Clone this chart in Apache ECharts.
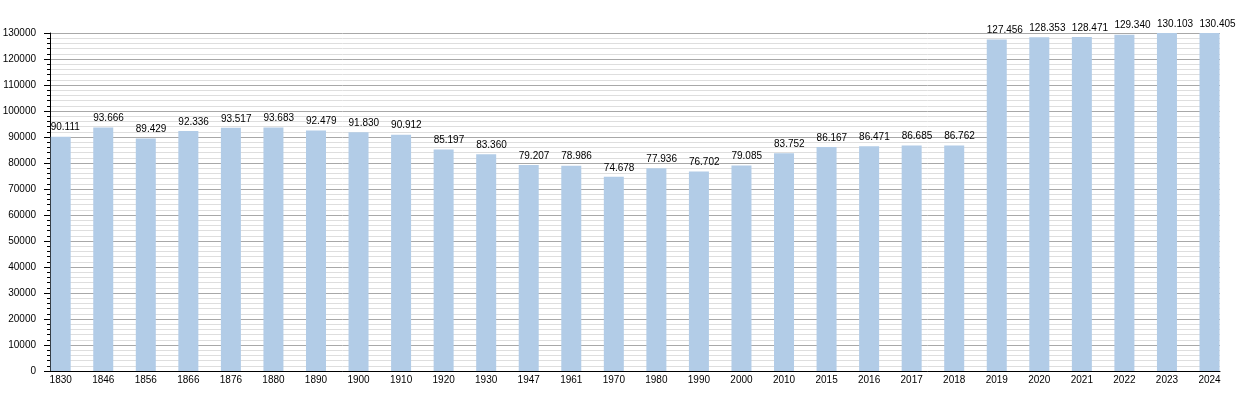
<!DOCTYPE html>
<html>
<head>
<meta charset="utf-8">
<script src="https://cdn.jsdelivr.net/npm/echarts@6/dist/echarts.min.js"></script>
<style>html,body{margin:0;padding:0;background:#fff}#c{width:1250px;height:400px}</style>
</head>
<body>
<div id="c"></div>
<script>
const years = ['1830','1846','1856','1866','1876','1880','1890','1900','1910','1920','1930','1947','1961','1970','1980','1990','2000','2010','2015','2016','2017','2018','2019','2020','2021','2022','2023','2024'];
const population = [90111,93666,89429,92336,93517,93683,92479,91830,90912,85197,83360,79207,78986,74678,77936,76702,79085,83752,86167,86471,86685,86762,127456,128353,128471,129340,130103,130405];
const yMin = 0, yMax = 130000, yStep = 10000;

function fmt(v){ return String(v).replace(/\B(?=(\d{3})+(?!\d))/g, '.'); }

const chart = echarts.init(document.getElementById('c'), null, {renderer:'canvas'});
const font = 'Liberation Sans';
chart.setOption({
  animation:false,
  backgroundColor:'#fff',
  textStyle:{fontFamily:font},
  grid:[
    {left:50, right:30, top:33, bottom:29, containLabel:false, outerBoundsMode:'none'},
    {left:60.7, right:40.5, top:33, bottom:29, containLabel:false, outerBoundsMode:'none'}
  ],
  xAxis:[
    {gridIndex:0, type:'category', data:years, boundaryGap:true,
     axisLine:{show:true, lineStyle:{color:'#000', width:1}},
     axisTick:{show:false}, axisLabel:{show:false}, splitLine:{show:false}},
    {gridIndex:1, type:'category', data:years, boundaryGap:false,
     axisLine:{show:false}, axisTick:{show:false},
     axisLabel:{show:true, interval:0, color:'#000', fontSize:10, fontFamily:font, margin:4},
     splitLine:{show:false}}
  ],
  yAxis:[
    {gridIndex:0, type:'value', min:yMin, max:yMax, interval:yStep,
     axisLine:{show:true, lineStyle:{color:'#000', width:1}},
     axisTick:{show:true, length:6, lineStyle:{color:'#000'}},
     minorTick:{show:true, splitNumber:5, length:3, lineStyle:{color:'#000'}},
     axisLabel:{color:'#000', fontSize:10, fontFamily:font, margin:14, formatter:v=>String(v)},
     splitLine:{show:true, lineStyle:{color:'#a8a8a8', width:1}},
     minorSplitLine:{show:true, lineStyle:{color:'#dedede', width:1}}},
    {gridIndex:1, type:'value', min:yMin, max:yMax, interval:yStep, show:false,
     splitLine:{show:false}}
  ],
  series:[{
    type:'bar', xAxisIndex:1, yAxisIndex:1, data:population, barWidth:20,
    itemStyle:{color:'#b2cce7'},
    label:{show:true, position:'top', distance:4, align:'left', offset:[-10,0],
      color:'#000', fontSize:10, fontFamily:font, formatter:p=>fmt(p.value)}
  }]
});
</script>
</body>
</html>
